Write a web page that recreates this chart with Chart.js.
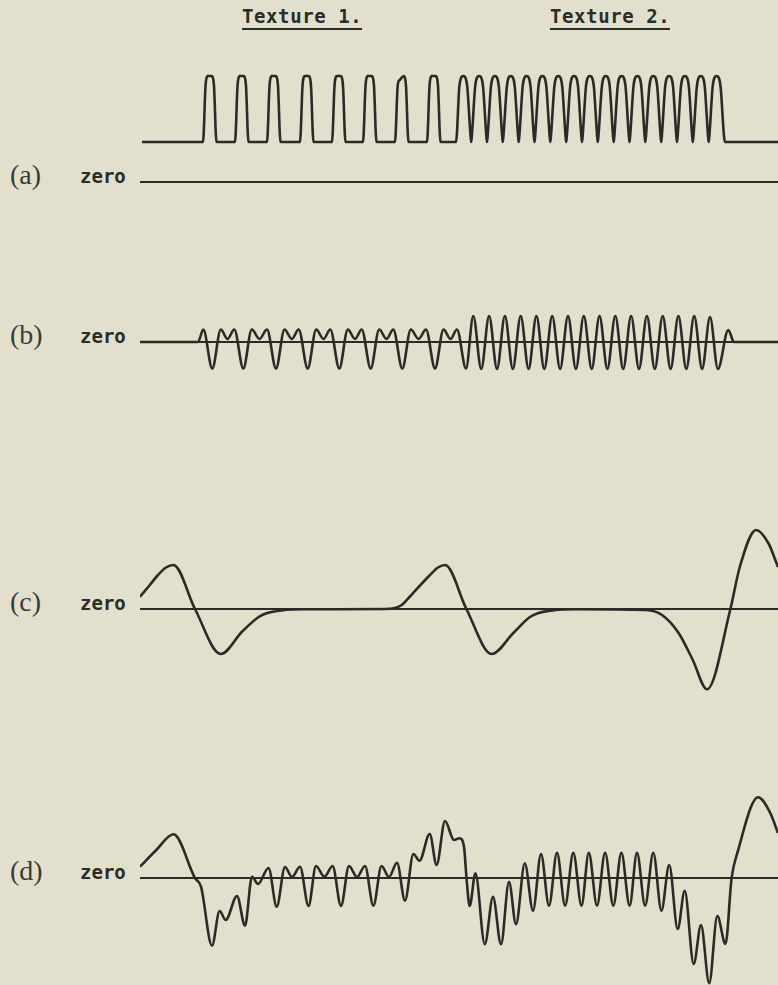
<!DOCTYPE html>
<html>
<head>
<meta charset="utf-8">
<script src="https://cdn.jsdelivr.net/npm/chart.js@4.4.1/dist/chart.umd.min.js"></script>
<style>
  html, body { margin:0; padding:0; }
  body { width:778px; height:985px; background:rgb(226,224,204); position:relative; overflow:hidden; }
  canvas { position:absolute; left:140px; }
  .mono { position:absolute; font-family:"DejaVu Sans Mono", monospace; font-weight:bold; font-size:19px; line-height:19px; color:#2b2b28; white-space:nowrap; }
  .serif { position:absolute; font-family:"Liberation Serif", serif; font-size:28px; line-height:28px; color:#3a3a36; white-space:nowrap; left:10px; }
  .uline { position:absolute; height:2px; background:#2b2b28; top:28px; }
</style>
</head>
<body>
<div class="mono" style="left:242px; top:7px; letter-spacing:0.6px;">Texture 1.</div>
<div class="uline" style="left:242px; width:120px;"></div>
<div class="mono" style="left:550px; top:7px; letter-spacing:0.6px;">Texture 2.</div>
<div class="uline" style="left:550px; width:120px;"></div>

<div class="serif" style="top:161px;">(a)</div>
<div class="mono" style="left:80px; top:167px;">zero</div>
<div class="serif" style="top:321px;">(b)</div>
<div class="mono" style="left:80px; top:327px;">zero</div>
<div class="serif" style="top:588px;">(c)</div>
<div class="mono" style="left:80px; top:594px;">zero</div>
<div class="serif" style="top:857px;">(d)</div>
<div class="mono" style="left:80px; top:863px;">zero</div>

<canvas id="ca" width="638" height="130" style="top:60px;"></canvas>
<canvas id="cb" width="638" height="80" style="top:300px;"></canvas>
<canvas id="cc" width="638" height="185" style="top:515px;"></canvas>
<canvas id="cd" width="638" height="205" style="top:780px;"></canvas>

<script>
// time axis span (arbitrary units)
const tAxis = [0, 638];

// (a) texture signal: [time, level]
const traceA = [
  [2,40],
  [63,40],[65.5,96],[66.3,103],[67.8,106],[71.7,106],[73.2,103],[74,96],[76.5,40],
  [95,40],[97.5,96],[98.3,103],[99.8,106],[103.7,106],[105.2,103],[106,96],[108.5,40],
  [127,40],[129.5,96],[130.3,103],[131.8,106],[135.7,106],[137.2,103],[138,96],[140.5,40],
  [160,40],[162.5,96],[163.3,103],[164.8,106],[168.7,106],[170.2,103],[171,96],[173.5,40],
  [192,40],[194.5,96],[195.3,103],[196.8,106],[200.7,106],[202.2,103],[203,96],[205.5,40],
  [223,40],[225.5,96],[226.3,103],[227.8,106],[231.7,106],[233.2,103],[234,96],[236.5,40],
  [255,40],[257.5,94],[258.3,100],[259.8,102],[263.7,106],[265.2,103],[266,96],[268.5,40],
  [287,40],[289.5,96],[290.3,103],[291.8,106],[295.7,106],[297.2,103],[298,96],[300.5,40],
  [316,40],
  [319.3,95],[320.8,103.5],[323.3,106],[325.8,103.5],[327.3,95],[330.4,48],[331.2,40],[332.0,48],
  [335.1,95],[336.6,103.5],[339.1,106],[341.6,103.5],[343.1,95],[346.2,48],[347.0,40],[347.8,48],
  [350.9,95],[352.4,103.5],[354.9,106],[357.4,103.5],[358.9,95],[362.0,48],[362.8,40],[363.6,48],
  [366.8,95],[368.3,103.5],[370.8,106],[373.3,103.5],[374.8,95],[377.9,48],[378.7,40],[379.5,48],
  [382.6,95],[384.1,103.5],[386.6,106],[389.1,103.5],[390.6,95],[393.7,48],[394.5,40],[395.3,48],
  [398.4,95],[399.9,103.5],[402.4,106],[404.9,103.5],[406.4,95],[409.5,48],[410.3,40],[411.1,48],
  [414.3,95],[415.8,103.5],[418.3,106],[420.8,103.5],[422.3,95],[425.4,48],[426.2,40],[427.0,48],
  [430.1,95],[431.6,103.5],[434.1,106],[436.6,103.5],[438.1,95],[441.2,48],[442.0,40],[442.8,48],
  [445.9,95],[447.4,103.5],[449.9,106],[452.4,103.5],[453.9,95],[457.0,48],[457.8,40],[458.6,48],
  [461.8,95],[463.3,103.5],[465.8,106],[468.3,103.5],[469.8,95],[472.9,48],[473.7,40],[474.5,48],
  [477.6,95],[479.1,103.5],[481.6,106],[484.1,103.5],[485.6,95],[488.7,48],[489.5,40],[490.3,48],
  [493.4,95],[494.9,103.5],[497.4,106],[499.9,103.5],[501.4,95],[504.5,48],[505.3,40],[506.1,48],
  [509.3,95],[510.8,103.5],[513.3,106],[515.8,103.5],[517.3,95],[520.4,48],[521.2,40],[522.0,48],
  [525.1,95],[526.6,103.5],[529.1,106],[531.6,103.5],[533.1,95],[536.2,48],[537.0,40],[537.8,48],
  [540.9,95],[542.4,103.5],[544.9,106],[547.4,103.5],[548.9,95],[552.0,48],[552.8,40],[553.6,48],
  [556.8,95],[558.3,103.5],[560.8,106],[563.3,103.5],[564.8,95],[567.9,48],[568.7,40],[569.5,48],
  [572.6,95],[574.1,103.5],[576.6,106],[579.1,103.5],[580.6,95],[585,40],
  [638,40]
];

// (b) filtered response
const traceB = [
  [0,0],[58,0],[63.3,12.5],[72.3,-26.5],[80.8,12.5],[87.5,3],[94.3,12.5],
  [103.3,-26.5],[111.8,12.5],[119.5,3],[127,12.5],
  [136,-26.5],[144.5,12.5],[151.8,3],[158.7,12.5],
  [167.7,-26.5],[176.2,12.5],[183.5,3],[190.3,12.5],
  [199.3,-26.5],[207.8,12.5],[215,3],[221.7,12.5],
  [230.7,-26.5],[239.2,12.5],[246.5,3],[253.3,12.5],
  [262.3,-26.5],[270.8,12.5],[278.6,3],[286,12.5],
  [295,-26.5],[303.5,12.5],[310.5,3],[317,12.5],
  [326,-26.5],
  [333.3,26],[341.2,-27],[349.1,26],[357.0,-27],[364.9,26],[372.8,-27],
  [380.7,26],[388.6,-27],[396.4,26],[404.3,-27],[412.2,26],[420.1,-27],
  [428.0,26],[435.9,-27],[443.8,26],[451.7,-27],[459.5,26],[467.4,-27],
  [475.3,26],[483.2,-27],[491.1,26],[499.0,-27],[506.9,26],[514.8,-27],
  [522.7,26],[530.6,-27],[538.4,26],[546.3,-27],[554.2,26],[562.1,-27],
  [570.0,25],[577.9,-27],[588.3,12],[594,0],[638,0]
];

// (c) coarse-scale response
const traceC = [
  [0,12.3],[9,23],[18,34],[26,41.5],[33.5,44],[55,0],[80.8,-45],[102,-22.7],
  [118.3,-8.3],[126.5,-4.3],[142.8,-1.3],[163,-0.3],[245,0],[254,0.8],
  [261,3.5],[270,12.5],[280,23.5],[290,34],[298,41.5],[305.2,44],[326.4,0],
  [351.7,-45],[373.3,-24],[389.6,-8.3],[397.8,-4.3],[414,-1.3],[434.5,-0.3],
  [506,-1],[522,-6],[538.6,-24],[552.8,-51],[567,-80.3],[590.4,0],[599.8,42],
  [616,79],[628.3,66],[638,42]
];

// (d) combined response
const traceD = [
  [0,11.3],[16.3,28],[33.5,43.7],[55,0],[61,-8.7],[72,-67.7],[79.6,-33],
  [85.7,-42],[97,-18],[105,-47.7],[112,1.3],[118,-6],[128.5,10],
  [136.7,-28.7],[145,11],[152,1],[160,11.3],[168.5,-28],[176,12],
  [184.4,1.3],[192.6,12],[201,-28],[209,12],[217,1],[225,12],
  [233.4,-27.7],[241.5,12],[249,1],[257,15.3],[265,-22.7],[273.4,24],
  [279.5,17.3],[289.7,44],[296.6,13],[305,57],[314,38],[319.5,39.7],
  [324,31.3],[326.5,0],[329.7,-28],[335.4,4.7],[344.8,-66.3],[353,-18.7],
  [361,-66.3],[369,-3.7],[376,-46.3],[384.8,14.7],[393,-32.7],[401,24],
  [409,-27.7],[417,25.3],[425.1,-27.7],[433.3,25.3],[441.5,-27.7],
  [448.8,25.3],[457,-27.7],[465.1,25.3],[473.3,-27.7],[481.4,25.3],
  [489.6,-27.7],[497,25.3],[505.1,-27.7],[513.3,25.3],[521.4,-32.7],
  [529.2,13],[537.7,-51],[544.7,-12.7],[553.7,-86],[561,-47],
  [569.2,-105.3],[577.3,-38],[585.5,-66],[591.6,0],[597.7,26.3],
  [618.1,80.7],[630.4,64.7],[638,45]
];

// value ranges of each panel
const rangeA = [-8, 122];
const rangeB = [-38, 42];
const rangeC = [-91, 94];
const rangeD = [-107, 98];

const ink = '#2a2a27';
const toXY = tr => tr.map(p => ({x:p[0], y:p[1]}));

function makePanel(id, trace, yr) {
  new Chart(document.getElementById(id), {
    type: 'line',
    data: { datasets: [
      { data: toXY([[tAxis[0],0],[tAxis[1],0]]), borderColor: ink, borderWidth: 2, pointRadius: 0, tension: 0 },
      { data: toXY(trace), borderColor: ink, borderWidth: 2.6, pointRadius: 0, cubicInterpolationMode: 'monotone' }
    ]},
    options: {
      responsive: false, animation: false, devicePixelRatio: 1, events: [],
      layout: { padding: 0 },
      plugins: { legend: { display: false }, tooltip: { enabled: false } },
      scales: {
        x: { type: 'linear', min: tAxis[0], max: tAxis[1], display: false },
        y: { type: 'linear', min: yr[0], max: yr[1], display: false }
      }
    }
  });
}

makePanel('ca', traceA, rangeA);
makePanel('cb', traceB, rangeB);
makePanel('cc', traceC, rangeC);
makePanel('cd', traceD, rangeD);
</script>
</body>
</html>
